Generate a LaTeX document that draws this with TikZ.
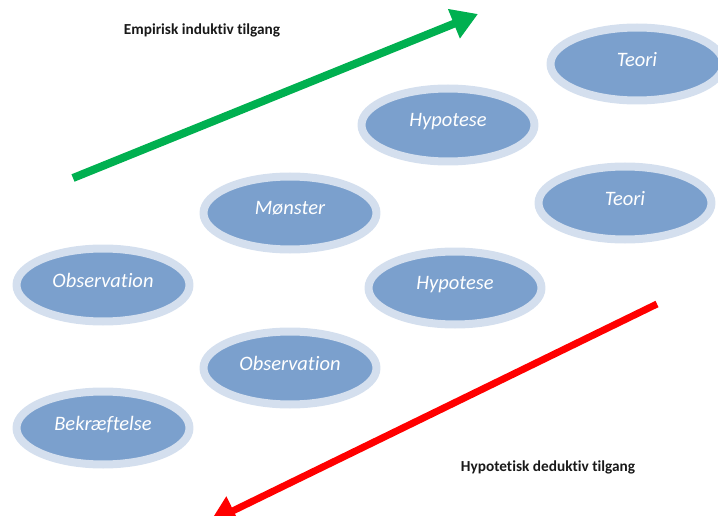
\documentclass[tikz,border=0pt]{standalone}
\usepackage{fontspec}
\setmainfont{Carlito}[Ligatures=NoCommon]
\usetikzlibrary{shapes.geometric,arrows.meta}
\definecolor{boblefyld}{HTML}{7BA0CD}
\definecolor{bobleramme}{HTML}{D4DFEE}
\definecolor{induktiv}{HTML}{00B050}
\definecolor{deduktiv}{HTML}{FF0000}
\begin{document}
\begin{tikzpicture}[x=1pt, y=-1pt, line join=round,
    boble/.style={ellipse, fill=boblefyld, draw=bobleramme, line width=8pt,
        minimum width=173pt, minimum height=73pt, inner sep=0pt,
        text=white, font=\fontsize{20.5}{24}\selectfont\itshape},
    overskrift/.style={font=\fontsize{15.3}{18}\selectfont\bfseries, text=black!90},
    pil/.style={line width=#1, -{Triangle[length=26pt, width=30pt]}}]
    \useasboundingbox (0,0) rectangle (718,516);
    \clip (0,0) rectangle (718,516);
    \def\op{10pt} % tekst løftet i boblen
    % bobler
    \node[boble] (teoriA) at (637,64) {\raisebox{\op}{Teori}};
    \node[boble] (hypA) at (448,125) {\raisebox{\op}{Hypotese}};
    \node[boble] (teoriB) at (625,203) {\raisebox{\op}{Teori}};
    \node[boble] (moenster) at (290,213) {\raisebox{\op}{Mønster}};
    \node[boble] (obsA) at (103,285) {\raisebox{\op}{Observation}};
    \node[boble] (hypB) at (455,288) {\raisebox{\op}{Hypotese}};
    \node[boble] (obsB) at (290,368) {\raisebox{\op}{Observation}};
    \node[boble] (bekr) at (103,428) {\raisebox{\op}{Bekræftelse}};
    % overskrifter
    \node[overskrift] (empLabel) at (202,30) {Empirisk induktiv tilgang};
    \node[overskrift] (hypLabel) at (548,467) {Hypotetisk deduktiv tilgang};
    % pile
    \coordinate (indStart) at (73,178); \coordinate (indSlut) at (478,14);
    \coordinate (dedStart) at (657,304); \coordinate (dedSlut) at (210,522);
    \draw[pil=8pt, induktiv] (indStart) -- (indSlut);
    \draw[pil=7pt, deduktiv] (dedStart) -- (dedSlut);
\end{tikzpicture}
\end{document}
